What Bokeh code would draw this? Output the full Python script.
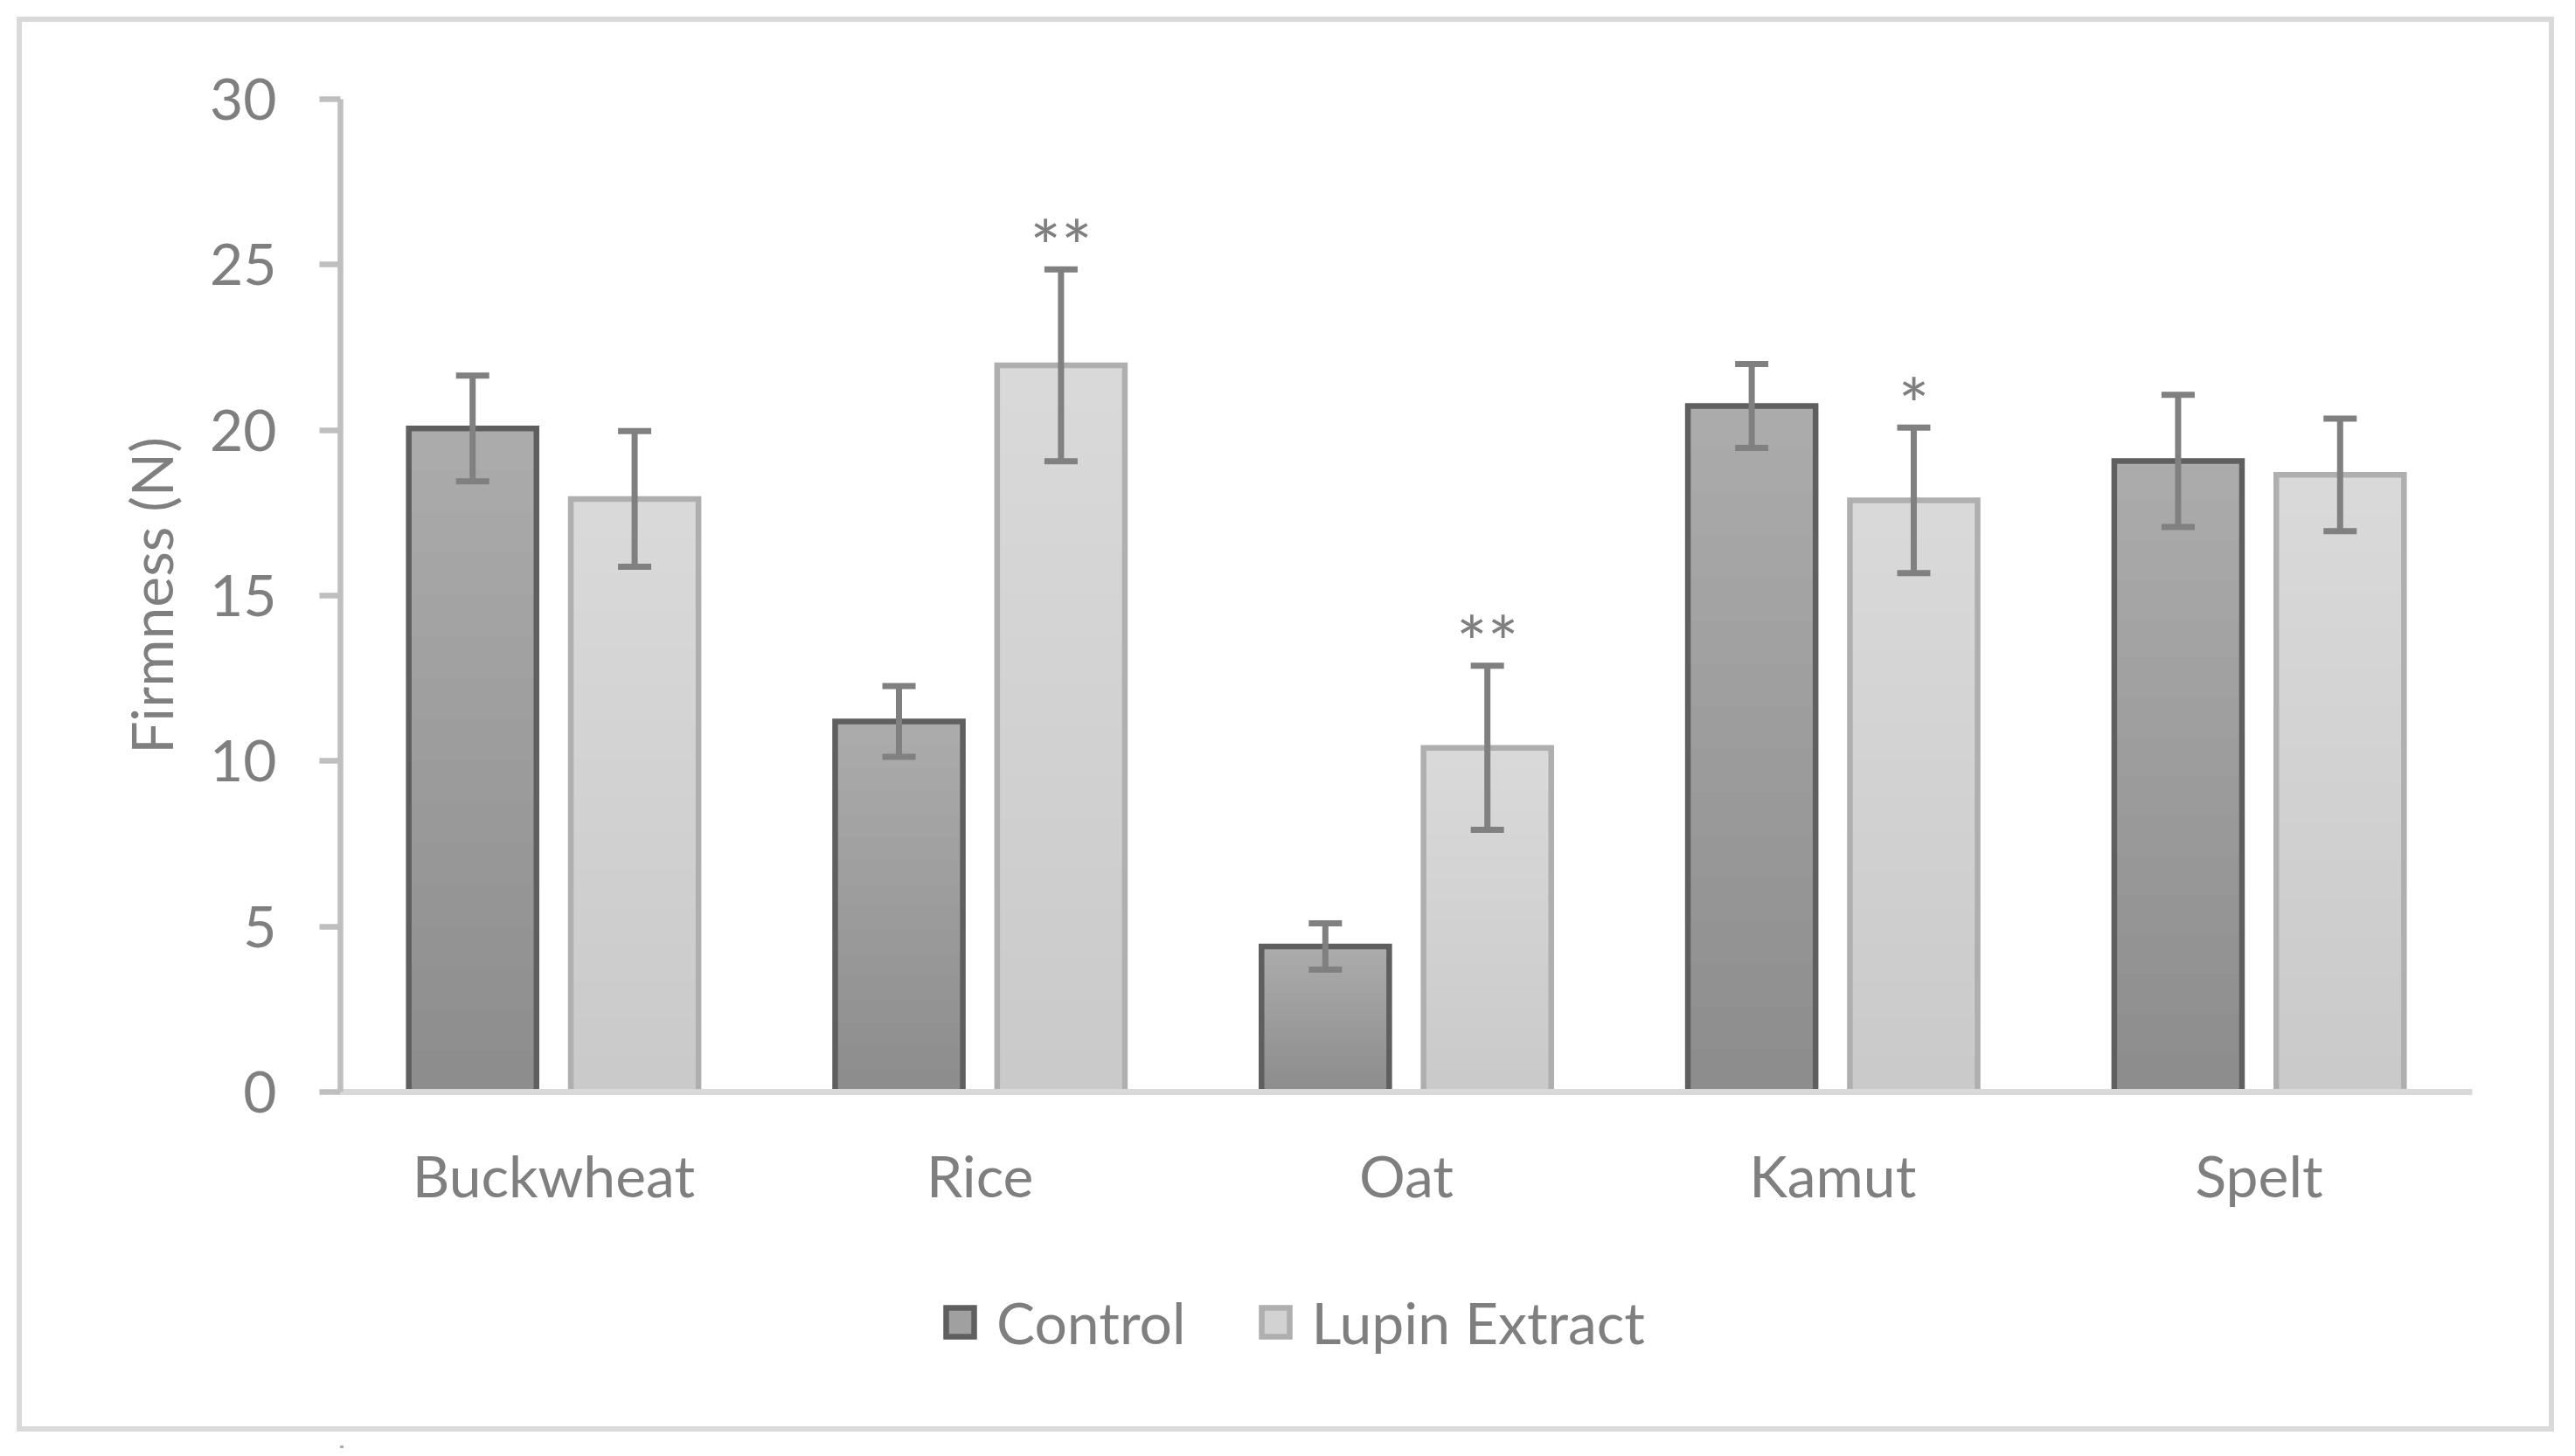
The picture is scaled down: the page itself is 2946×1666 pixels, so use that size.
from bokeh.plotting import figure
from bokeh.layouts import column
from bokeh.models import (ColumnDataSource, Range1d, FactorRange, SingleIntervalTicker,
                          Whisker, TeeHead, Legend, LegendItem)
from bokeh.transform import dodge
from bokeh.core.properties import value
from bokeh.embed import file_html
from bokeh.resources import INLINE

# ---------------- data ----------------
categories = ["Buckwheat", "Rice", "Oat", "Kamut", "Spelt"]
control_mean = [20.05, 11.2, 4.4, 20.73, 19.07]
control_err = [1.6, 1.07, 0.7, 1.27, 2.0]
lupin_mean = [17.92, 21.96, 10.4, 17.88, 18.65]
lupin_err = [2.05, 2.9, 2.48, 2.2, 1.7]
significance = ["", "**", "**", "*", ""]
series_names = ["Control", "Lupin Extract"]
y_ticks_interval = 5

# ---------------- style ----------------
FONT = "Lato"
FS = "66px"
TEXT = "#7f7f7f"
W = 2941
H1, H2 = 1420, 237
OFF = 0.19
BW = 0.2995
NGRAD = 16

src = ColumnDataSource(dict(
    cat=categories,
    control=control_mean,
    control_lo=[m - e for m, e in zip(control_mean, control_err)],
    control_hi=[m + e for m, e in zip(control_mean, control_err)],
    lupin=lupin_mean,
    lupin_lo=[m - e for m, e in zip(lupin_mean, lupin_err)],
    lupin_hi=[m + e for m, e in zip(lupin_mean, lupin_err)],
    sig=significance,
))
for key, means in (("control", control_mean), ("lupin", lupin_mean)):
    for i in range(1, NGRAD + 1):
        src.data[f"{key}_g{i}"] = [m * i / NGRAD for m in means]

p = figure(x_range=FactorRange(factors=categories), y_range=Range1d(0, 30),
           width=W, height=H1, output_backend="svg", toolbar_location=None,
           min_border_left=389, min_border_right=113, min_border_top=113,
           min_border_bottom=H1 - 1249)
p.background_fill_color = "white"
p.border_fill_color = None
p.outline_line_color = None
p.xgrid.grid_line_color = None
p.ygrid.grid_line_color = None

styles = [
    ("control", -OFF, "#adadad", "#5f5f5f", 1 - 0.86 ** (1 / NGRAD)),
    ("lupin", OFF, "#dadada", "#afafaf", 1 - 0.935 ** (1 / NGRAD)),
]
for key, off, fill, line, alpha in styles:
    xd = dodge("cat", off, range=p.x_range)
    p.vbar(x=xd, top=key, width=BW, bottom=0, source=src,
           fill_color=fill, line_color=None)
    for i in range(1, NGRAD + 1):
        p.vbar(x=xd, top=f"{key}_g{i}", width=BW, bottom=0, source=src,
               fill_color="black", fill_alpha=alpha, line_color=None)
    p.vbar(x=xd, top=key, width=BW, bottom=0, source=src,
           fill_color=None, line_color=line, line_width=6.5, line_join="miter")
    w = Whisker(source=src, base=xd, upper=f"{key}_hi", lower=f"{key}_lo",
                line_color="#808080", line_width=7, level="overlay",
                upper_head=TeeHead(size=38, line_color="#808080", line_width=7),
                lower_head=TeeHead(size=38, line_color="#808080", line_width=7))
    p.add_layout(w)

p.text(x=dodge("cat", OFF, range=p.x_range), y="lupin_hi", text="sig", source=src,
       text_font=value(FONT), text_font_size="84px", text_color=TEXT,
       text_align="center", text_baseline="middle", y_offset=-28)

# y axis
ya = p.yaxis[0]
ya.ticker = SingleIntervalTicker(interval=y_ticks_interval)
ya.minor_tick_line_color = None
ya.major_tick_in = 0
ya.major_tick_out = 24
ya.major_tick_line_color = "#bfbfbf"
ya.major_tick_line_width = 6.5
ya.axis_line_color = "#bfbfbf"
ya.axis_line_width = 6.5
ya.major_label_text_font = FONT
ya.major_label_text_font_size = FS
ya.major_label_text_color = TEXT
ya.major_label_standoff = 49
ya.axis_label = "Firmness (N)"
ya.axis_label_standoff = 25
ya.axis_label_text_font = FONT
ya.axis_label_text_font_size = FS
ya.axis_label_text_color = TEXT
ya.axis_label_text_font_style = "normal"

# x axis
xa = p.xaxis[0]
xa.axis_line_color = "#d9d9d9"
xa.axis_line_width = 7
xa.major_tick_line_color = None
xa.major_tick_in = 0
xa.major_tick_out = 0
xa.minor_tick_line_color = None
xa.major_label_standoff = 55
xa.major_label_text_font = FONT
xa.major_label_text_font_size = FS
xa.major_label_text_color = TEXT

# legend strip (own canvas below the chart, so the legend is not clipped)
pl = figure(width=W, height=H2, x_range=Range1d(0, 1), y_range=Range1d(0, 1),
            output_backend="svg", toolbar_location=None,
            x_axis_location=None, y_axis_location=None,
            min_border_left=389, min_border_right=113, min_border_top=0,
            min_border_bottom=0)
pl.xgrid.grid_line_color = None
pl.ygrid.grid_line_color = None
pl.outline_line_color = None
pl.background_fill_color = None
pl.border_fill_color = None
legend_items = []
proxy_x, proxy_y = [-100.0], [-100.0]   # legend swatch proxies, far outside the visible range
for (key, off, fill, line, alpha), name in zip(styles, series_names):
    r_fill = pl.vbar(x=proxy_x, top=proxy_y, bottom=proxy_y, width=0.1,
                     fill_color=fill, line_color=None)
    r_grad = pl.vbar(x=proxy_x, top=proxy_y, bottom=proxy_y, width=0.1,
                     fill_color="black", fill_alpha=alpha * NGRAD / 2, line_color=None)
    r_line = pl.vbar(x=proxy_x, top=proxy_y, bottom=proxy_y, width=0.1,
                     fill_color=None, line_color=line, line_width=6.5, line_join="miter")
    legend_items.append(LegendItem(label=name, renderers=[r_fill, r_grad, r_line]))

legend = Legend(items=legend_items, orientation="horizontal", location=(689, 105.5),
                glyph_width=40, glyph_height=41, label_standoff=22, spacing=82,
                padding=0, margin=0, border_line_color=None, background_fill_alpha=0,
                label_text_font=FONT, label_text_font_size=FS, label_text_color=TEXT)
pl.add_layout(legend)

layout = column(p, pl, spacing=0,
                styles={"outline": "6.5px solid #d9d9d9", "outline-offset": "-25.5px",
                        "background-color": "white"})

open("out.html", "w").write(file_html(layout, INLINE))
